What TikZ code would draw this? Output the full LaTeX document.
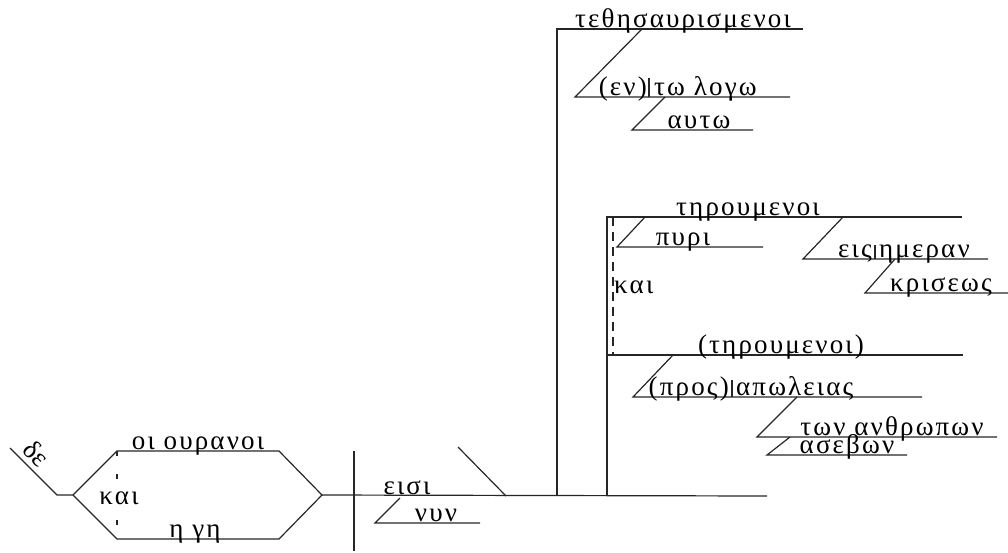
\documentclass[tikz,border=0pt]{standalone}
\usepackage{fontspec}
\newfontfamily\gk[LetterSpace=8]{Liberation Serif}
\newfontfamily\gkn{Liberation Serif}
\begin{document}
\begin{tikzpicture}[x=1pt,y=-1pt,
  ln/.style={line width=1.2pt,draw=black!85},
  dsh/.style={ln,dash pattern=on 9pt off 6pt},
  gt/.style={font=\gk\fontsize{27}{30}\selectfont,inner sep=0pt,anchor=base,yshift=-1pt}]
\useasboundingbox (0,0) rectangle (1008,552);
% ---- coordinates
\coordinate (de1) at (10,448); \coordinate (de2) at (57,495);
\coordinate (fk) at (73,495);
\coordinate (uL) at (117,451); \coordinate (uR) at (279,451);
\coordinate (lL) at (117,539); \coordinate (lR) at (279,539);
\coordinate (jn) at (322,495);
\coordinate (mE) at (767,496);
\coordinate (dvT) at (354,451); \coordinate (dvB) at (354,551);
\coordinate (nA) at (400,498); \coordinate (nB) at (375,523); \coordinate (nC) at (480,523);
\coordinate (sA) at (458,447); \coordinate (sB) at (506,496);
\coordinate (v1B) at (557,496); \coordinate (v1T) at (557,29); \coordinate (t1E) at (803,29);
\coordinate (v2B) at (607,496); \coordinate (v2T) at (607,217); \coordinate (t2E) at (962,217);
\coordinate (v3) at (607,355); \coordinate (t3E) at (963,355);
% ---- compound subject
\draw[ln] (de1) -- (de2) -- (fk) -- (uL) -- (uR) -- (jn) -- (lR) -- (lL) -- (fk);
\draw[ln] (jn) -- (mE);
\draw[dsh,dash pattern=on 5pt off 18pt] (uL) -- (lL);
\node[gt] (ouranoi) at (198,448) {οι ουρανοι};
\node[gt] (ge) at (195,536) {η γη};
\node[gt,fill=white,inner sep=1pt] (kai1) at (119,503) {και};
\node[font=\gkn\fontsize{27}{30}\selectfont,inner sep=0pt,rotate=-45] (de) at (37,453) {δε};
% ---- verb
\draw[ln] (dvT) -- (dvB);
\node[gt] (eisi) at (407,493) {εισι};
\draw[ln] (nA) -- (nB) -- (nC);
\node[gt] (nun) at (436,520) {νυν};
\draw[ln] (sA) -- (sB);
% ---- compound predicate
\draw[ln] (v1B) -- (v1T) -- (t1E);
\node[gt] (teth) at (683,26) {τεθησαυρισμενοι};
\coordinate (a1) at (642,29); \coordinate (a2) at (575,97); \coordinate (a3) at (790,97);
\draw[ln] (a1) -- (a2) -- (a3);
\node[gt,anchor=base east] (en) at (647,94) {(εν)};
\coordinate (b1) at (649,78); \coordinate (b2) at (649,97);
\draw[ln] (b1) -- (b2);
\node[gt,anchor=base west] (logw) at (654,94) {τω λογω};
\coordinate (c1) at (665,97); \coordinate (c2) at (632,130); \coordinate (c3) at (753,130);
\draw[ln] (c1) -- (c2) -- (c3);
\node[gt] (autw) at (699,127) {αυτω};
% second
\draw[ln] (v2B) -- (v2T) -- (t2E);
\draw[ln] (v3) -- (t3E);
\coordinate (k1) at (613,217); \coordinate (k2) at (613,355);
\draw[dsh] (k1) -- (k2);
\node[gt] (thr) at (748,214) {τηρουμενοι};
\node[gt,anchor=base west] (kai2) at (614,292) {και};
\coordinate (p1) at (645,217); \coordinate (p2) at (617,247); \coordinate (p3) at (763,247);
\draw[ln] (p1) -- (p2) -- (p3);
\node[gt] (puri) at (683,244) {πυρι};
\coordinate (e1) at (843,217); \coordinate (e2) at (803,259); \coordinate (e3) at (988,259);
\draw[ln] (e1) -- (e2) -- (e3);
\node[gt,anchor=base east] (eis) at (872,256) {εις};
\coordinate (f1) at (875,245); \coordinate (f2) at (875,259);
\draw[ln] (f1) -- (f2);
\node[gt,anchor=base west] (hmeran) at (879,256) {ημεραν};
\coordinate (g1) at (895,259); \coordinate (g2) at (865,293); \coordinate (g3) at (1008,293);
\draw[ln] (g1) -- (g2) -- (g3);
\node[gt] (krisews) at (941,290) {κρισεως};
% third
\node[gt] (thr2) at (781,352) {(τηρουμενοι)};
\coordinate (h1) at (673,355); \coordinate (h2) at (633,397); \coordinate (h3) at (922,397);
\draw[ln] (h1) -- (h2) -- (h3);
\node[gt,anchor=base east] (pros) at (729,394) {(προς)};
\coordinate (i1) at (732,380); \coordinate (i2) at (732,397);
\draw[ln] (i1) -- (i2);
\node[gt,anchor=base west] (apw) at (736,394) {απωλειας};
\coordinate (j1) at (797,397); \coordinate (j2) at (757,437); \coordinate (j3) at (997,437);
\draw[ln] (j1) -- (j2) -- (j3);
\node[gt,text depth=0pt] (anth) at (892,434) {των ανθρωπων};
\coordinate (m1) at (790,437); \coordinate (m2) at (767,455); \coordinate (m3) at (907,455);
\draw[ln] (m1) -- (m2) -- (m3);
\node[gt,text height=10pt] (aseb) at (847,452) {ασεβων};
\end{tikzpicture}
\end{document}
